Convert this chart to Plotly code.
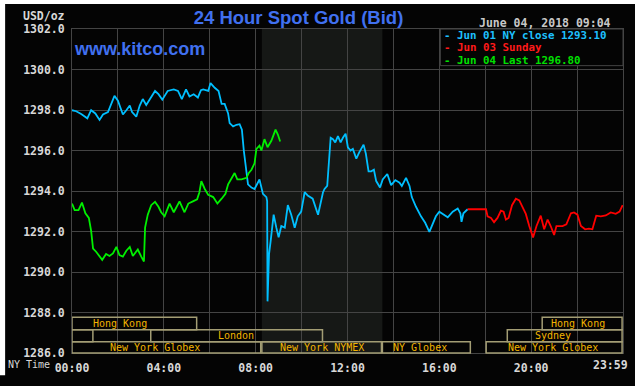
import plotly.graph_objects as go

# ---------------- data (minutes after midnight, NY time ; USD/oz) ----------------
cyan_min = [0, 11, 24, 40, 50, 61, 72, 81, 94, 103,
            111, 120, 133, 142, 151, 157, 168, 177, 185, 194,
            203, 217, 226, 236, 250, 266, 277, 287, 298, 307,
            318, 329, 337, 343, 356, 362, 373, 383, 391, 399,
            408, 412, 421, 430, 438, 444, 449, 453, 460, 469,
            477, 490, 499, 508, 510, 511, 513, 515, 519, 524,
            527, 534, 540, 547, 556, 564, 573, 582, 590, 599,
            608, 616, 629, 643, 656, 660, 667, 670, 676, 682,
            688, 695, 702, 708, 715, 721, 728, 734, 743, 751,
            762, 768, 775, 782, 789, 795, 805, 812, 824, 834,
            845, 856, 862, 873, 882, 888, 899, 912, 923, 934,
            943, 951, 960, 971, 982, 995, 1008, 1015, 1018, 1023,
            1034]
cyan_val = [1297.99, 1297.94, 1297.80, 1297.59, 1297.99, 1297.83, 1297.51, 1297.78, 1297.90, 1298.38,
            1298.70, 1298.46, 1297.78, 1297.99, 1298.22, 1297.90, 1297.67, 1298.22, 1298.54, 1298.25,
            1298.54, 1298.94, 1298.78, 1298.51, 1298.94, 1299.02, 1298.94, 1298.54, 1299.02, 1298.67,
            1298.78, 1298.62, 1298.98, 1299.02, 1298.94, 1299.33, 1299.10, 1298.94, 1298.30, 1298.30,
            1297.83, 1297.35, 1297.19, 1297.27, 1297.30, 1297.03, 1296.00, 1295.37, 1294.33, 1294.17,
            1294.10, 1294.57, 1293.86, 1293.70, 1293.50, 1288.55, 1289.80, 1290.90, 1291.50, 1292.60,
            1292.83, 1292.19, 1291.71, 1292.27, 1292.19, 1293.30, 1292.83, 1292.19, 1292.75, 1292.98,
            1293.94, 1293.78, 1293.62, 1292.83, 1293.94, 1294.10, 1294.25, 1295.05, 1296.63, 1296.56,
            1296.40, 1296.71, 1296.40, 1296.63, 1296.83, 1296.16, 1296.00, 1296.08, 1295.60, 1295.92,
            1296.29, 1295.84, 1294.97, 1294.97, 1295.05, 1294.49, 1294.17, 1294.57, 1294.84, 1294.29,
            1294.54, 1294.41, 1294.25, 1294.65, 1294.25, 1293.70, 1293.22, 1292.75, 1292.43, 1291.98,
            1292.35, 1292.75, 1292.98, 1292.83, 1292.70, 1292.98, 1293.14, 1292.90, 1292.48, 1292.90,
            1293.10]

red_min = [1034, 1082, 1086, 1095, 1103, 1112, 1121, 1128, 1134, 1141,
           1150, 1160, 1169, 1177, 1186, 1195, 1205, 1214, 1225, 1234,
           1243, 1251, 1260, 1266, 1282, 1292, 1304, 1312, 1321, 1330,
           1341, 1351, 1360, 1370, 1382, 1395, 1408, 1421, 1431, 1439]
red_val = [1293.10, 1293.10, 1292.75, 1292.67, 1292.46, 1292.67, 1293.03, 1292.98, 1292.59, 1292.67,
           1293.30, 1293.62, 1293.54, 1293.22, 1292.87, 1292.27, 1291.71, 1292.27, 1292.78, 1292.11,
           1292.59, 1292.27, 1291.83, 1292.27, 1292.27, 1292.35, 1292.90, 1292.94, 1292.83, 1292.27,
           1292.11, 1292.14, 1292.11, 1292.78, 1292.75, 1292.79, 1292.94, 1292.87, 1292.98, 1293.30]

green_min = [0, 7, 17, 26, 35, 44, 50, 55, 63, 72,
             79, 89, 98, 107, 116, 124, 133, 142, 151, 159,
             172, 181, 188, 191, 198, 207, 217, 226, 233, 242,
             255, 266, 281, 294, 304, 316, 327, 333, 338, 347,
             356, 369, 380, 391, 401, 408, 417, 425, 432, 443,
             456, 462, 469, 477, 482, 490, 495, 503, 511, 521,
             532, 538, 544]
green_val = [1293.38, 1293.06, 1293.06, 1293.43, 1292.90, 1292.67, 1292.03, 1291.16, 1291.00, 1290.76,
             1290.60, 1290.89, 1290.79, 1290.92, 1291.24, 1290.84, 1290.76, 1291.05, 1291.24, 1290.79,
             1291.11, 1290.76, 1290.52, 1292.19, 1292.83, 1293.30, 1293.46, 1293.22, 1292.95, 1292.75,
             1293.38, 1292.95, 1293.49, 1292.95, 1293.38, 1293.49, 1293.59, 1293.94, 1294.49, 1294.10,
             1293.81, 1293.70, 1293.38, 1293.62, 1293.86, 1294.33, 1294.65, 1294.89, 1294.57, 1294.57,
             1294.65, 1294.89, 1295.05, 1295.37, 1296.08, 1296.24, 1296.00, 1296.56, 1296.16, 1296.48,
             1297.03, 1296.79, 1296.44]

x_tick_hours = [0, 2, 4, 6, 8, 10, 12, 14, 16, 18, 20, 22, 24]
x_tick_labels = ["00:00", "", "04:00", "", "08:00", "", "12:00", "", "16:00", "", "20:00", "", ""]
y_ticks = [1286, 1288, 1290, 1292, 1294, 1296, 1298, 1300, 1302]
y_tick_labels = ["%.1f" % v for v in y_ticks]

legend_labels = ["- Jun 01 NY close 1293.10", "- Jun 03 Sunday", "- Jun 04 Last 1296.80"]

nymex_hours = (8.27, 13.52)
# (label, start hour, end hour, row, label centre hour)
sessions = [
    ("Hong Kong", 0.0, 5.43, 1, 2.09),
    ("", 0.0, 0.91, 2, None),
    ("London", 3.43, 10.91, 2, 7.13),
    ("New York Globex", 0.0, 8.22, 3, 3.61),
    ("New York NYMEX", 8.27, 13.48, 3, 10.87),
    ("NY Globex", 13.52, 17.35, 3, 15.17),
    ("New York Globex", 18.04, 23.96, 3, 20.96),
    ("Sydney", 18.96, 23.96, 2, 20.96),
    ("Hong Kong", 20.48, 23.96, 1, 22.04),
]

# ---------------- style ----------------
BG = "#040404"
GRID = "#444444"
CYAN = "#00bfff"
RED = "#ff0000"
GREEN = "#00f000"
BLUE = "#4070f0"
SESS_TXT = "#f2b400"
SESS_LINE = "#a39d74"
MONO = "DejaVu Sans Mono"
W, H = 635, 386
L, R, T, B = 72, 11, 29, 21
PW, PH = W - L - R, H - T - B


def px_x(p):
    return (p - L) / PW


def px_y(p):
    return (H - B - p) / PH


fig = go.Figure()
for mins, vals, col in [(cyan_min, cyan_val, CYAN), (red_min, red_val, RED), (green_min, green_val, GREEN)]:
    fig.add_trace(go.Scatter(x=[m / 60 for m in mins], y=vals, mode="lines",
                             line=dict(color=col, width=1.8), hoverinfo="skip", showlegend=False))

shapes = []
# NYMEX shaded region
shapes.append(dict(type="rect", xref="x", yref="y", x0=nymex_hours[0], x1=nymex_hours[1],
                   y0=1286, y1=1302, fillcolor="#161816", line=dict(width=0), layer="below"))
# session boxes
row_edges = {1: (px_y(341), px_y(328)), 2: (px_y(353.3), px_y(341)), 3: (px_y(365), px_y(353.3))}
annotations = []
for name, s, e, row, c in sessions:
    y0, y1 = row_edges[row]
    shapes.append(dict(type="rect", xref="x", yref="paper", x0=s, x1=e, y0=y0, y1=y1,
                       line=dict(color=SESS_LINE, width=1.5), fillcolor="rgba(0,0,0,0)", layer="above"))
    if name:
        annotations.append(dict(text=name, xref="x", yref="paper", x=c, y=(y0 + y1) / 2,
                                xanchor="center", yanchor="middle", showarrow=False,
                                borderpad=0,
                                font=dict(family=MONO, size=10, color=SESS_TXT)))
# legend box
shapes.append(dict(type="rect", xref="paper", yref="paper", x0=px_x(441), x1=1.0,
                   y0=px_y(67), y1=1.0, fillcolor=BG, line=dict(color=GRID, width=1), layer="above"))
# white page edges
shapes.append(dict(type="rect", xref="paper", yref="paper", x0=px_x(-2), x1=px_x(5),
                   y0=px_y(H + 2), y1=px_y(-2), fillcolor="white", line=dict(width=0), layer="above"))
shapes.append(dict(type="rect", xref="paper", yref="paper", x0=px_x(-2), x1=px_x(W + 2),
                   y0=px_y(3), y1=px_y(-2), fillcolor="white", line=dict(width=0), layer="above"))

for i, (lab, col) in enumerate(zip(legend_labels, ["#1ec0ff", "#ff1a1a", "#00e000"])):
    annotations.append(dict(text=lab, xref="paper", yref="paper", x=px_x(444), y=px_y(36 + i * 12.6),
                            xanchor="left", yanchor="middle", showarrow=False, borderpad=0,
                            font=dict(family=MONO, size=10.8, color=col, weight="bold")))

annotations += [
    dict(text="www.kitco.com", xref="paper", yref="paper", x=px_x(72), y=px_y(50),
         xanchor="left", yanchor="middle", showarrow=False,
         font=dict(family="Liberation Sans", size=18, color=BLUE, weight="bold")),
    dict(text="June 04, 2018 09:04", xref="paper", yref="paper", x=px_x(614), y=px_y(22.5),
         xanchor="right", yanchor="middle", showarrow=False,
         font=dict(family=MONO, size=11.5, color="#c8c8c8", weight="bold")),
    dict(text="USD/oz", xref="paper", yref="paper", x=px_x(67), y=px_y(16),
         xanchor="right", yanchor="middle", showarrow=False,
         font=dict(family=MONO, size=11.5, color="#d8d8d8", weight="bold")),
    dict(text="NY Time", xref="paper", yref="paper", x=px_x(6), y=px_y(377),
         xanchor="left", yanchor="middle", showarrow=False,
         font=dict(family=MONO, size=10, color="#d8d8d8")),
    dict(text="23:59", xref="paper", yref="paper", x=px_x(631), y=px_y(377),
         xanchor="right", yanchor="middle", showarrow=False,
         font=dict(family=MONO, size=11.5, color="#d8d8d8", weight="bold")),
]

fig.update_layout(
    width=W, height=H, margin=dict(l=L, r=R, t=T, b=B, pad=0),
    paper_bgcolor=BG, plot_bgcolor=BG,
    title=dict(text="24 Hour Spot Gold (Bid)", xref="container", yref="container",
               x=298.5 / W, y=1 - 18 / H, xanchor="center", yanchor="middle",
               font=dict(family="Liberation Sans", size=18.5, color=BLUE, weight="bold")),
    xaxis=dict(range=[0, 24], tickmode="array", tickvals=x_tick_hours, ticktext=x_tick_labels,
               showgrid=True, gridcolor=GRID, gridwidth=1, zeroline=False,
               showline=True, mirror=True, linecolor=GRID, linewidth=1, ticks="",
               ticklabelstandoff=4,
               tickfont=dict(family=MONO, size=11.5, color="#d8d8d8", weight="bold"),
               fixedrange=True),
    yaxis=dict(range=[1286, 1302], tickmode="array", tickvals=y_ticks, ticktext=y_tick_labels,
               showgrid=True, gridcolor=GRID, gridwidth=1, zeroline=False,
               showline=True, mirror=True, linecolor=GRID, linewidth=1, ticks="",
               ticklabelstandoff=4,
               tickfont=dict(family=MONO, size=11.5, color="#d8d8d8", weight="bold"),
               fixedrange=True),
    shapes=shapes, annotations=annotations, showlegend=False,
)

fig.write_html("out.html", config={"displayModeBar": False},
               post_script="document.body.style.margin='0px';document.body.style.overflow='hidden';")
